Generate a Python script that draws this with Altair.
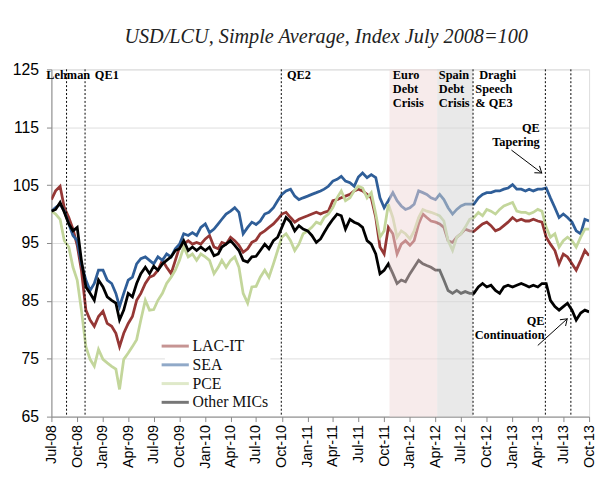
import altair as alt
import pandas as pd

# ---------------- data ----------------
series_names = ["LAC-IT", "SEA", "PCE", "Other MICs"]
series_colors = ["#953735", "#2f5e98", "#c3d69b", "#000000"]

# semi-monthly observations, 1 Jul 2008 ... 1 Oct 2013
lac_it = [
    102.5, 104.0, 104.8, 101.1, 99.4, 97.4, 94.6, 90.3, 83.4, 81.7, 80.6, 82.3, 83.2, 81.1, 80.6, 79.4, 77.1, 79.4, 81.1, 82.3, 85.1, 86.3, 88.0, 89.1, 89.4,
    90.3, 92.0, 90.8, 89.7, 92.0, 94.3, 94.8, 95.4, 94.8, 95.1, 94.8, 95.7, 96.3, 94.3, 94.0, 95.1, 94.8, 96.0, 95.4, 94.6, 93.4, 94.0, 95.1, 95.5,
    96.6, 97.1, 97.7, 98.3, 99.1, 100.0, 100.3, 99.4, 98.6, 99.1, 99.4, 99.7, 100.0, 100.3, 100.0, 100.3, 100.5, 102.3, 102.5, 102.8, 103.1, 103.4, 104.0, 104.3,
    104.0, 103.4, 102.8, 99.4, 94.3, 93.1, 97.7, 96.6, 93.1, 94.8, 95.4, 94.6, 95.4, 98.3, 100.0, 99.4, 98.8, 98.6, 98.3, 97.7, 95.4, 95.1, 96.0, 96.6, 97.4, 97.1, 97.0,
    97.7, 98.3, 98.6, 98.0, 97.1, 97.4, 98.0, 98.6, 99.4, 98.8, 99.1, 98.8, 98.8, 99.1, 98.8, 98.6, 96.0, 94.8, 93.7, 91.4, 93.1, 92.6, 91.4, 90.3, 92.0, 93.7, 92.8,
]
sea = [
    100.5, 101.1, 101.7, 100.5, 98.3, 96.3, 95.4, 91.4, 88.6, 86.8, 88.0, 90.3, 90.3, 88.6, 88.0, 86.3, 84.0, 86.3, 88.6, 89.1, 91.4, 92.3, 92.6, 92.0, 91.4,
    92.6, 92.0, 93.1, 92.6, 94.0, 94.8, 96.6, 96.3, 96.8, 96.3, 97.7, 98.3, 96.8, 97.4, 98.3, 99.1, 100.0, 100.5, 101.1, 100.3, 96.6, 97.7, 98.6, 98.2,
    98.8, 100.0, 100.3, 101.1, 102.3, 103.4, 104.0, 104.3, 103.1, 102.5, 102.8, 103.1, 103.4, 103.7, 104.0, 104.3, 104.8, 105.7, 106.0, 106.5, 105.7, 105.4, 104.8, 106.4,
    107.1, 106.3, 106.8, 106.3, 102.8, 101.1, 102.3, 103.7, 102.3, 101.4, 100.8, 101.1, 101.7, 104.0, 103.7, 103.4, 102.8, 102.5, 103.4, 102.5, 101.1, 100.0, 100.8, 101.4, 101.7, 101.7, 101.7,
    102.8, 103.4, 103.7, 103.7, 104.0, 104.0, 104.3, 104.5, 105.1, 104.3, 104.3, 104.0, 104.3, 104.0, 104.3, 104.3, 104.5, 102.8, 101.1, 99.4, 100.0, 99.4, 98.6, 97.1, 96.6, 99.1, 98.8,
]
pce = [
    100.5, 100.0, 99.1, 95.4, 94.3, 90.8, 88.6, 83.4, 77.1, 74.9, 73.7, 76.6, 74.9, 74.3, 73.7, 73.2, 69.7, 74.9, 76.0, 77.1, 78.3, 81.7, 85.1, 83.4, 83.5,
    85.1, 86.3, 88.0, 89.1, 90.3, 92.0, 94.3, 92.6, 93.1, 92.0, 93.1, 92.6, 92.0, 89.7, 90.8, 92.0, 90.8, 92.0, 92.6, 90.8, 86.3, 84.6, 87.4, 87.5,
    89.1, 90.3, 89.1, 91.4, 93.7, 96.0, 96.6, 95.4, 93.7, 94.8, 96.6, 97.1, 97.7, 98.6, 98.3, 99.4, 100.0, 101.1, 102.8, 104.0, 102.3, 102.8, 104.0, 104.8,
    104.5, 102.8, 103.7, 100.0, 96.0, 97.1, 101.7, 99.4, 96.0, 97.1, 96.6, 95.7, 97.1, 99.4, 100.8, 100.5, 100.3, 100.0, 99.7, 98.8, 95.4, 93.7, 96.0, 96.6, 97.7, 99.1, 99.4,
    100.3, 99.7, 100.8, 100.5, 100.0, 100.8, 101.4, 101.7, 102.0, 100.5, 100.3, 100.3, 100.0, 100.3, 100.8, 100.5, 97.7, 96.0, 96.6, 94.3, 95.4, 96.0, 95.4, 94.3, 96.0, 97.4, 97.4,
]
other_mics = [
    100.5, 100.8, 102.0, 100.3, 98.3, 97.1, 97.7, 92.0, 87.4, 86.3, 85.1, 88.6, 87.4, 85.7, 85.1, 84.6, 81.7, 83.4, 86.3, 85.7, 88.0, 89.7, 90.8, 89.7, 91.0,
    90.3, 91.4, 92.0, 92.6, 93.7, 94.0, 95.4, 93.7, 94.3, 93.7, 94.3, 93.7, 94.3, 92.8, 93.1, 94.3, 94.8, 95.4, 94.6, 93.7, 92.0, 91.7, 92.6, 92.7,
    93.7, 94.8, 94.0, 95.4, 96.0, 97.7, 99.4, 98.6, 97.1, 98.0, 97.4, 97.1, 96.3, 95.1, 95.7, 96.8, 98.0, 99.1, 100.0, 99.7, 97.4, 99.1, 98.6, 98.3,
    97.7, 95.4, 94.8, 93.1, 89.7, 90.3, 91.4, 89.7, 88.0, 88.6, 88.3, 89.7, 90.8, 92.0, 91.4, 91.1, 90.8, 90.3, 90.3, 88.6, 86.8, 86.3, 86.8, 86.3, 86.6, 86.3, 86.3,
    87.4, 88.0, 87.4, 87.7, 86.8, 86.3, 87.4, 87.7, 87.4, 87.7, 88.0, 87.7, 87.4, 87.7, 87.4, 88.0, 88.0, 85.1, 84.0, 83.4, 84.0, 84.6, 83.4, 81.7, 82.9, 83.4, 83.1,
]

# event lines and shaded periods
event_dates = ["2008-08-24", "2008-10-29", "2010-09-29", "2012-08-13", "2013-04-28", "2013-07-28"]
band_starts = ["2011-10-20", "2012-04-07"]
band_ends = ["2012-04-07", "2012-08-13"]
band_colors = ["#f0dada", "#d5d5d5"]

# annotation texts
ann_text = ["Lehman", "QE1", "QE2", "Euro", "Debt", "Crisis", "Spain", "Debt", "Crisis",
            "Draghi", "Speech", "& QE3"]
ann_date = ["2008-08-30", "2008-12-03", "2010-10-19", "2011-11-01", "2011-11-01", "2011-11-01",
            "2012-04-13", "2012-04-13", "2012-04-13", "2012-09-04", "2012-08-21", "2012-08-21"]
ann_value = [124.0, 124.0, 124.0, 124.0, 121.6, 119.2, 124.0, 121.6, 119.2, 124.0, 121.6, 119.2]
ann_align = ["center", "left", "left", "left", "left", "left", "left", "left", "left", "left", "left", "left"]

right_text = ["QE", "Tapering", "QE", "Continuation"]
right_date = ["2013-04-08", "2013-04-08", "2013-04-25", "2013-04-25"]
right_value = [114.8, 112.5, 81.45, 79.1]

arrow_start = ["2012-12-28", "2013-04-01"]
arrow_end = ["2013-04-15", "2013-07-15"]
arrow_v0 = [111.05, 77.3]
arrow_v1 = [107.1, 81.9]
arrow_angle = [37.5, 318.0]

# ---------------- tables ----------------
months = pd.date_range("2008-07-01", "2013-10-01", freq="MS")
dates = []
for d in months:
    dates.append(d)
    if d < months[-1]:
        dates.append(d + pd.Timedelta(days=15))

rows = []
for name, vals in zip(series_names, [lac_it, sea, pce, other_mics]):
    for d, v in zip(dates, vals):
        rows.append({"date": d, "value": v, "series": name})
df = pd.DataFrame(rows)

events = pd.DataFrame({"date": pd.to_datetime(event_dates)})
bands = pd.DataFrame({"start": pd.to_datetime(band_starts), "end": pd.to_datetime(band_ends),
                      "color": band_colors})
ann = pd.DataFrame({"date": pd.to_datetime(ann_date), "value": ann_value, "text": ann_text, "align": ann_align})
rtxt = pd.DataFrame({"date": pd.to_datetime(right_date), "value": right_value, "text": right_text})
arrows = pd.DataFrame({"d0": pd.to_datetime(arrow_start), "d1": pd.to_datetime(arrow_end),
                       "v0": arrow_v0, "v1": arrow_v1, "angle": arrow_angle})

# ---------------- scales / axes ----------------
FONT = "Liberation Serif"
x_scale = alt.Scale(domain=[alt.DateTime(year=2008, month=7, date=1),
                            alt.DateTime(year=2013, month=10, date=1)])
y_scale = alt.Scale(domain=[65, 125], nice=False, zero=False)
tick_dates = [alt.DateTime(year=d.year, month=d.month, date=1)
              for d in pd.date_range("2008-07-01", "2013-10-01", freq="3MS")]

x_axis = alt.Axis(values=tick_dates, format="%b-%y", labelAngle=-90, title=None,
                  grid=False, labelFontSize=14.5, tickSize=5, labelPadding=3,
                  labelOverlap=False, labelBound=False, labelFlush=False)
y_axis = alt.Axis(values=[65, 75, 85, 95, 105, 115, 125], title=None, grid=True,
                  labelFontSize=16, tickSize=5, labelPadding=8)


def xq(field):
    return alt.X(field, scale=x_scale, axis=x_axis)


def yq(field):
    return alt.Y(field, scale=y_scale, axis=y_axis)


lines = alt.Chart(df).mark_line(strokeWidth=2.8, clip=True).encode(
    x=xq("date:T"), y=yq("value:Q"),
    color=alt.Color("series:N",
                    scale=alt.Scale(domain=series_names, range=series_colors),
                    legend=alt.Legend(title=None, orient="none", legendX=115, legendY=270,
                                      symbolType="M-2,0H2", symbolSize=190, symbolStrokeWidth=3,
                                      symbolOpacity=1,
                                      labelFont=FONT, labelFontSize=16, labelOffset=9,
                                      labelColor="#111111",
                                      rowPadding=2, padding=2, fillColor="white")),
)

band_layer = alt.Chart(bands).mark_rect(opacity=0.53).encode(
    x=xq("start:T"), x2="end:T",
    color=alt.Color("color:N", scale=None),
)

rules = alt.Chart(events).mark_rule(color="black", strokeWidth=1, strokeDash=[2, 2]).encode(
    x=xq("date:T")
)

texts_left = alt.Chart(ann[ann["align"] == "left"]).mark_text(
    font=FONT, fontSize=12.5, fontWeight="bold", align="left", baseline="middle", color="black"
).encode(x=xq("date:T"), y=yq("value:Q"), text="text:N")

texts_center = alt.Chart(ann[ann["align"] == "center"]).mark_text(
    font=FONT, fontSize=12.5, fontWeight="bold", align="center", baseline="middle", color="black"
).encode(x=xq("date:T"), y=yq("value:Q"), text="text:N")

texts_right = alt.Chart(rtxt).mark_text(
    font=FONT, fontSize=12.5, fontWeight="bold", align="right", baseline="middle", color="black"
).encode(x=xq("date:T"), y=yq("value:Q"), text="text:N")

arrow_lines = alt.Chart(arrows).mark_rule(color="black", strokeWidth=1).encode(
    x=xq("d0:T"), x2="d1:T",
    y=yq("v0:Q"), y2="v1:Q",
)
arrow_heads = alt.Chart(arrows).mark_point(
    shape="M-1,-0.7L0,0L-1,0.7", filled=False, color="black", strokeWidth=1, size=150, opacity=1
).encode(
    x=xq("d1:T"), y=yq("v1:Q"),
    angle=alt.Angle("angle:Q", scale=None),
)

chart = alt.layer(
    lines, band_layer, rules, texts_left, texts_center, texts_right, arrow_lines, arrow_heads
).properties(
    width=545, height=352,
    title=alt.TitleParams("USD/LCU, Simple Average, Index July 2008=100", font=FONT,
                          fontStyle="italic", fontWeight="normal", fontSize=20.5,
                          color="#222222", anchor="middle", offset=14, dx=6),
    padding={"left": 44, "top": 59, "right": 7, "bottom": 58},
    autosize=alt.AutoSizeParams(type="none"),
).configure_view(
    stroke="#999999", strokeWidth=1
).configure_axis(
    labelFont=FONT, labelColor="#111111", domainColor="#888888", tickColor="#888888",
    gridColor="#d4d4d4", gridWidth=1
).configure_axisX(
    labelOverlap=False
).configure(background="white")

chart.save("out.html", embed_options={"renderer": "svg", "actions": False})
